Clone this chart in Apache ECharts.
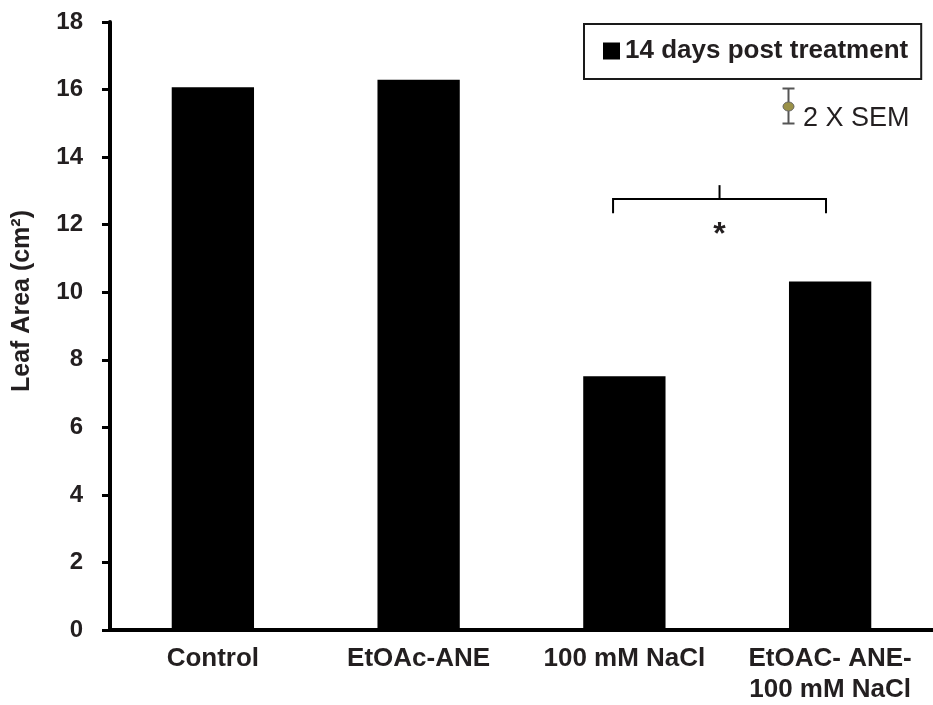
<!DOCTYPE html>
<html>
<head>
<meta charset="utf-8">
<script src="https://cdn.jsdelivr.net/npm/echarts@6/dist/echarts.min.js"></script>
<style>
  html, body { margin: 0; padding: 0; background: #fff; }
  #chart { width: 933px; height: 705px; }
</style>
</head>
<body>
<div id="chart"></div>
<script>
// Treatment groups and mean leaf area (cm²) 14 days after treatment
var categories = ['Control', 'EtOAc-ANE', '100 mM NaCl', 'EtOAC- ANE-\n100 mM NaCl'];
var leafArea = [16.07, 16.29, 7.51, 10.32];
var seriesName = '14 days post treatment';
var yTicks = { min: 0, max: 18, step: 2 };

// Significance bracket between the two salt-stressed groups
var bracketGroups = [2, 3];
var bracketLevel = [12.34, 12.76, 13.17]; // arm bottom, bar, centre-tick top
var sigMark = '*';

var FONT = 'Liberation Sans, Arial, sans-serif';
var INK = '#231f20';

var chart = echarts.init(document.getElementById('chart'));

chart.setOption({
  animation: false,
  backgroundColor: '#fff',
  grid: { left: 110, right: 0, top: 22, bottom: 75, containLabel: false, outerBoundsMode: 'none' },
  legend: {
    data: [seriesName],
    left: 584,
    top: 24,
    padding: [14, 13, 15, 19],
    borderColor: '#1a1a1a',
    borderWidth: 2,
    itemWidth: 17,
    itemHeight: 17,
    icon: 'rect',
    selectedMode: false,
    textStyle: { fontFamily: FONT, fontWeight: 'bold', fontSize: 26, color: INK }
  },
  xAxis: {
    type: 'category',
    data: categories,
    axisLine: { lineStyle: { color: '#000', width: 4 } },
    axisTick: { length: 7, lineStyle: { color: '#000', width: 3 } },
    axisLabel: {
      margin: 13,
      interval: 0,
      fontFamily: FONT,
      fontWeight: 'bold',
      fontSize: 26,
      lineHeight: 31,
      color: INK
    },
    splitLine: { show: false }
  },
  yAxis: {
    type: 'value',
    min: yTicks.min,
    max: yTicks.max,
    interval: yTicks.step,
    name: 'Leaf Area (cm²)',
    nameLocation: 'middle',
    nameGap: 75,
    nameTextStyle: {
      fontFamily: FONT, fontWeight: 'bold', fontSize: 25, color: INK,
      padding: [0, 0, 0, 50]
    },
    axisLine: { show: true, lineStyle: { color: '#000', width: 4 } },
    axisTick: { show: true, length: 8, lineStyle: { color: '#000', width: 3 } },
    axisLabel: {
      margin: 27,
      fontFamily: FONT, fontWeight: 'bold', fontSize: 24, color: INK
    },
    splitLine: { show: false }
  },
  series: [
    {
      name: seriesName,
      type: 'bar',
      data: leafArea,
      barWidth: '40%',
      itemStyle: { color: '#000' }
    },
    {
      name: 'significance',
      type: 'custom',
      coordinateSystem: 'cartesian2d',
      silent: true,
      data: [[bracketGroups[0], bracketGroups[1]]],
      renderItem: function (params, api) {
        var band = api.size([1, 0])[0];
        var xa = api.coord([api.value(0), bracketLevel[1]])[0] - band * 0.055;
        var xb = api.coord([api.value(1), bracketLevel[1]])[0] - band * 0.02;
        var yBar = api.coord([0, bracketLevel[1]])[1];
        var yArm = api.coord([0, bracketLevel[0]])[1];
        var yTop = api.coord([0, bracketLevel[2]])[1];
        var xm = (xa + xb) / 2;
        var stroke = { stroke: '#000', lineWidth: 2, fill: null };
        return {
          type: 'group',
          children: [
            { type: 'polyline', shape: { points: [[xa, yArm], [xa, yBar], [xb, yBar], [xb, yArm]] }, style: stroke },
            { type: 'line', shape: { x1: xm, y1: yBar, x2: xm, y2: yTop }, style: stroke },
            {
              type: 'text',
              x: xm, y: yBar + 20,
              style: {
                text: sigMark, fontFamily: FONT, fontWeight: 'bold', fontSize: 32,
                fill: INK, align: 'center', verticalAlign: 'top'
              }
            }
          ]
        };
      }
    }
  ],
  graphic: [
    // error-bar key beneath the legend
    {
      type: 'group',
      left: 780,
      top: 86,
      silent: true,
      children: [
        { type: 'line', shape: { x1: 7, y1: 1, x2: 7, y2: 36 }, style: { stroke: '#555', lineWidth: 2 } },
        { type: 'line', shape: { x1: 1, y1: 1, x2: 13, y2: 1 }, style: { stroke: '#555', lineWidth: 2 } },
        { type: 'line', shape: { x1: 1, y1: 36, x2: 13, y2: 36 }, style: { stroke: '#555', lineWidth: 2 } },
        { type: 'ellipse', shape: { cx: 7, cy: 19, rx: 5.5, ry: 4.5 }, style: { fill: '#9a9148', stroke: '#666', lineWidth: 1 } }
      ]
    },
    {
      type: 'text',
      left: 803,
      top: 105,
      silent: true,
      style: { text: '2 X SEM', fontFamily: FONT, fontSize: 27, fill: INK }
    }
  ]
});
</script>
</body>
</html>
